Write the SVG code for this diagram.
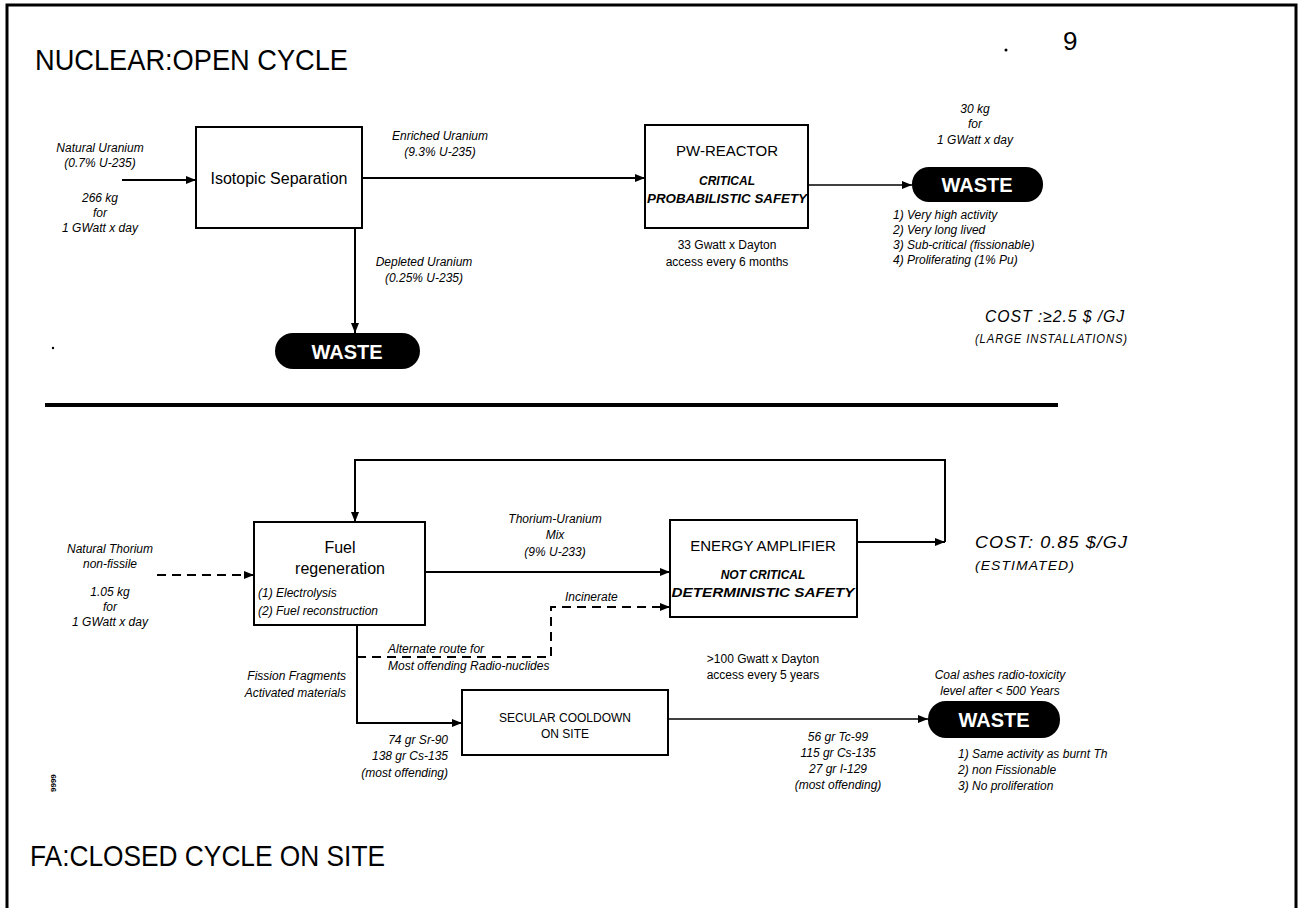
<svg xmlns="http://www.w3.org/2000/svg" width="1302" height="908" viewBox="0 0 1302 908">
<defs>
<marker id="ah" viewBox="0 0 10 8" refX="10" refY="4" markerWidth="10" markerHeight="8" markerUnits="userSpaceOnUse" orient="auto">
<path d="M0,0 L10,4 L0,8 Z" fill="#000"/>
</marker>
</defs>
<style>
text{font-family:"Liberation Sans",Arial,sans-serif;fill:#000}
.t{font-size:30px}
.n{font-size:15px}
.big{font-size:16px}
.i{font-size:12px;font-style:italic}
.bi{font-size:12px;font-style:italic;font-weight:bold}
.r{font-size:12px}
.w{font-size:20px;font-weight:bold;fill:#fff}
.hw{font-size:17px;font-style:italic;letter-spacing:1px}
.hs{font-size:13px;font-style:italic;letter-spacing:1px}
.box{fill:#fff;stroke:#000;stroke-width:2}
.pill{fill:#000}
.c{fill:none;stroke:#000;stroke-width:2}
.d{fill:none;stroke:#000;stroke-width:2;stroke-dasharray:9 6}
</style>
<rect width="1302" height="908" fill="#fff"/>
<g id="frame" fill="none" stroke="#000" stroke-width="3">
<path d="M7,908 L7,5 L1296,5 L1296,908"/>
</g>
<line x1="45" y1="405" x2="1058" y2="405" stroke="#000" stroke-width="4"/>
<text class="t" x="35" y="70" textLength="313" lengthAdjust="spacingAndGlyphs">NUCLEAR:OPEN CYCLE</text>
<text class="t" x="30" y="866" textLength="355" lengthAdjust="spacingAndGlyphs">FA:CLOSED CYCLE ON SITE</text>
<text x="1063" y="50" style="font-size:26px;font-family:'Liberation Sans',sans-serif">9</text>
<circle cx="1006" cy="50" r="1.5" fill="#000"/>
<circle cx="53" cy="348" r="1.2" fill="#000"/>
<text x="56" y="792" transform="rotate(-90 56 792)" style="font-size:8px;font-weight:bold">9999</text>

<g id="connectors">
<line class="c" x1="122" y1="180" x2="196" y2="180" marker-end="url(#ah)"/>
<line class="c" x1="362" y1="178" x2="645" y2="178" marker-end="url(#ah)"/>
<line class="c" x1="355" y1="228" x2="355" y2="333" marker-end="url(#ah)"/>
<line class="c" style="stroke-width:1.5" x1="808" y1="185" x2="912" y2="185" marker-end="url(#ah)"/>
<line class="d" x1="157" y1="575" x2="254" y2="575" marker-end="url(#ah)"/>
<line class="c" x1="857" y1="542" x2="945" y2="542" marker-end="url(#ah)"/>
<polyline class="c" points="945,542 945,460 355,460 355,522" marker-end="url(#ah)"/>
<line class="c" x1="425" y1="572" x2="670" y2="572" marker-end="url(#ah)"/>
<polyline class="d" points="357,657 551,657 551,607 670,607" marker-end="url(#ah)"/>
<polyline class="c" points="357,625 357,723 462,723" marker-end="url(#ah)"/>
<line class="c" style="stroke-width:1.5" x1="668" y1="719" x2="928" y2="719" marker-end="url(#ah)"/>
</g>

<g id="isotopic">
<rect class="box" x="196" y="127" width="166" height="101"/>
<text class="big" x="279" y="184" text-anchor="middle">Isotopic Separation</text>
</g>
<g id="pw-reactor">
<rect class="box" x="645" y="125" width="163" height="103"/>
<text class="n" x="727" y="156" text-anchor="middle">PW-REACTOR</text>
<text class="bi" x="727" y="185" text-anchor="middle">CRITICAL</text>
<text class="bi" x="727" y="203" text-anchor="middle" textLength="160" lengthAdjust="spacingAndGlyphs">PROBABILISTIC SAFETY</text>
</g>
<g id="waste1">
<rect class="pill" x="912" y="167" width="131" height="35" rx="17"/>
<text class="w" x="977" y="192" text-anchor="middle">WASTE</text>
</g>
<g id="waste2">
<rect class="pill" x="275" y="333" width="145" height="36" rx="18"/>
<text class="w" x="347" y="359" text-anchor="middle">WASTE</text>
</g>

<g id="labels-top">
<text class="i" x="100" y="152" text-anchor="middle">Natural Uranium</text>
<text class="i" x="100" y="167" text-anchor="middle">(0.7% U-235)</text>
<text class="i" x="100" y="202" text-anchor="middle">266 kg</text>
<text class="i" x="100" y="217" text-anchor="middle">for</text>
<text class="i" x="100" y="232" text-anchor="middle">1 GWatt x day</text>
<text class="i" x="440" y="140" text-anchor="middle">Enriched Uranium</text>
<text class="i" x="440" y="156" text-anchor="middle">(9.3% U-235)</text>
<text class="i" x="424" y="266" text-anchor="middle">Depleted Uranium</text>
<text class="i" x="424" y="282" text-anchor="middle">(0.25% U-235)</text>
<text class="r" x="727" y="249" text-anchor="middle">33 Gwatt x Dayton</text>
<text class="r" x="727" y="266" text-anchor="middle">access every 6 months</text>
<text class="i" x="975" y="113" text-anchor="middle">30 kg</text>
<text class="i" x="975" y="128" text-anchor="middle">for</text>
<text class="i" x="975" y="144" text-anchor="middle">1 GWatt x day</text>
<text class="i" x="893" y="219">1) Very high activity</text>
<text class="i" x="893" y="234">2) Very long lived</text>
<text class="i" x="893" y="249">3) Sub-critical (fissionable)</text>
<text class="i" x="893" y="264">4) Proliferating (1% Pu)</text>
<text class="hw" x="985" y="322" textLength="140" lengthAdjust="spacingAndGlyphs">COST :≥2.5 $ /GJ</text>
<text class="hs" x="975" y="343" textLength="153" lengthAdjust="spacingAndGlyphs">(LARGE INSTALLATIONS)</text>
</g>

<g id="fuel-regeneration">
<rect class="box" x="254" y="522" width="171" height="103"/>
<text class="big" x="340" y="553" text-anchor="middle">Fuel</text>
<text class="big" x="340" y="574" text-anchor="middle">regeneration</text>
<text class="i" x="258" y="597">(1) Electrolysis</text>
<text class="i" x="258" y="615">(2) Fuel reconstruction</text>
</g>
<g id="energy-amplifier">
<rect class="box" x="670" y="520" width="187" height="97"/>
<text class="n" x="763" y="551" text-anchor="middle">ENERGY AMPLIFIER</text>
<text class="bi" x="763" y="579" text-anchor="middle">NOT    CRITICAL</text>
<text class="bi" x="763" y="597" text-anchor="middle" textLength="183" lengthAdjust="spacingAndGlyphs">DETERMINISTIC SAFETY</text>
</g>
<g id="secular-cooldown">
<rect class="box" x="462" y="690" width="206" height="65"/>
<text class="r" x="565" y="722" text-anchor="middle">SECULAR COOLDOWN</text>
<text class="r" x="565" y="738" text-anchor="middle">ON SITE</text>
</g>
<g id="waste3">
<rect class="pill" x="928" y="701" width="132" height="37" rx="18"/>
<text class="w" x="994" y="727" text-anchor="middle">WASTE</text>
</g>

<g id="labels-bottom">
<text class="i" x="110" y="553" text-anchor="middle">Natural Thorium</text>
<text class="i" x="110" y="568" text-anchor="middle">non-fissile</text>
<text class="i" x="110" y="596" text-anchor="middle">1.05 kg</text>
<text class="i" x="110" y="611" text-anchor="middle">for</text>
<text class="i" x="110" y="626" text-anchor="middle">1 GWatt x day</text>
<text class="i" x="555" y="523" text-anchor="middle">Thorium-Uranium</text>
<text class="i" x="555" y="539" text-anchor="middle">Mix</text>
<text class="i" x="555" y="556" text-anchor="middle">(9% U-233)</text>
<text class="i" x="565" y="601">Incinerate</text>
<text class="i" x="388" y="653">Alternate route for</text>
<text class="i" x="388" y="670">Most offending Radio-nuclides</text>
<text class="i" x="346" y="680" text-anchor="end">Fission Fragments</text>
<text class="i" x="346" y="697" text-anchor="end">Activated materials</text>
<text class="i" x="448" y="744" text-anchor="end">74 gr  Sr-90</text>
<text class="i" x="448" y="760" text-anchor="end">138 gr Cs-135</text>
<text class="i" x="448" y="777" text-anchor="end">(most offending)</text>
<text class="r" x="763" y="663" text-anchor="middle">&gt;100 Gwatt x Dayton</text>
<text class="r" x="763" y="679" text-anchor="middle">access every 5 years</text>
<text class="i" x="1000" y="679" text-anchor="middle">Coal ashes radio-toxicity</text>
<text class="i" x="1000" y="695" text-anchor="middle">level after &lt; 500 Years</text>
<text class="i" x="838" y="741" text-anchor="middle">56 gr  Tc-99</text>
<text class="i" x="838" y="757" text-anchor="middle">115 gr Cs-135</text>
<text class="i" x="838" y="773" text-anchor="middle">27 gr    I-129</text>
<text class="i" x="838" y="789" text-anchor="middle">(most offending)</text>
<text class="i" x="958" y="758">1) Same activity as burnt Th</text>
<text class="i" x="958" y="774">2) non Fissionable</text>
<text class="i" x="958" y="790">3) No proliferation</text>
<text class="hw" x="975" y="548" textLength="153" lengthAdjust="spacingAndGlyphs">COST:  0.85 $/GJ</text>
<text class="hs" x="975" y="570" textLength="100" lengthAdjust="spacingAndGlyphs">(ESTIMATED)</text>
</g>
</svg>
